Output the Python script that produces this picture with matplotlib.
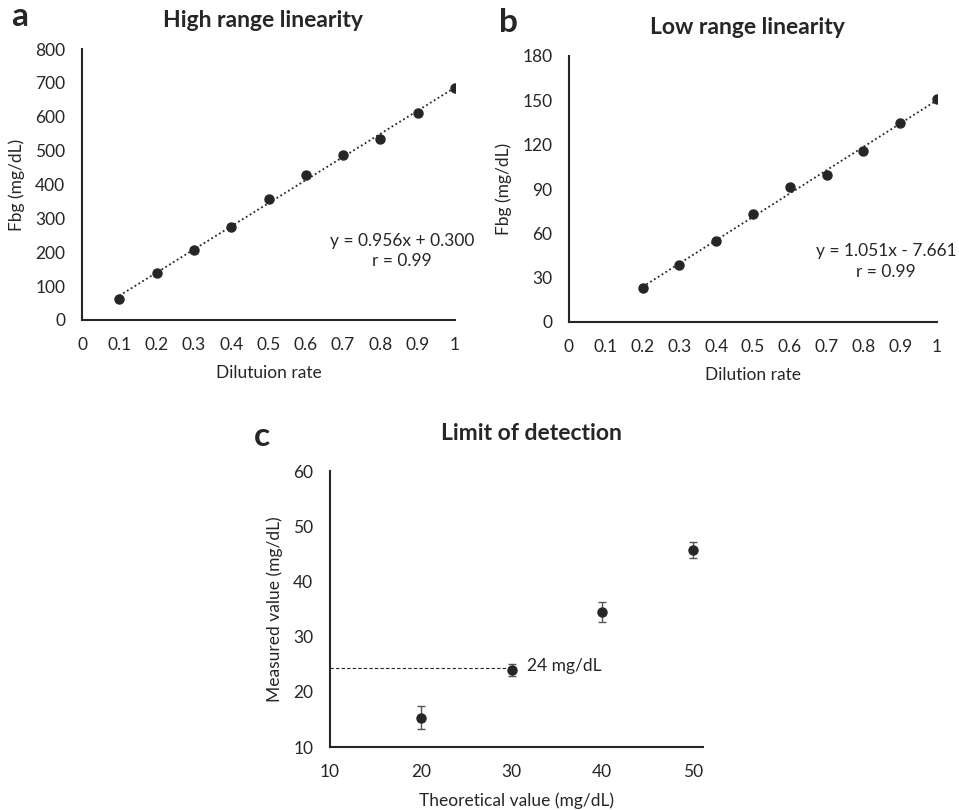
import numpy as np
import matplotlib
matplotlib.use("Agg")
import matplotlib.pyplot as plt

plt.rcParams['font.family'] = ['Lato', 'DejaVu Sans']
plt.rcParams['font.size'] = 12

# panel a: high range linearity
high_x = [0.1, 0.2, 0.3, 0.4, 0.5, 0.6, 0.7, 0.8, 0.9, 1.0]
high_y = [61, 139, 208, 276, 357, 429, 488, 533, 612, 686]

# panel b: low range linearity
low_x = [0.2, 0.3, 0.4, 0.5, 0.6, 0.7, 0.8, 0.9, 1.0]
low_y = [23.0, 38.8, 55.1, 73.4, 91.2, 99.6, 115.6, 134.6, 151.1]

# panel c: limit of detection
lod_x = [20, 30, 40, 50]
lod_y = [15.3, 23.9, 34.5, 45.7]
lod_err = [2.1, 1.1, 1.8, 1.45]
lod_level = 24.4

dark = '#262626'
fs = 12.5
W, H = 959, 810
fig = plt.figure(figsize=(W / 100, H / 100), dpi=100)


def box(left, top, right, bottom):
    return [left / W, 1 - bottom / H, (right - left) / W, (bottom - top) / H]


def style(ax):
    for s in ['top', 'right']:
        ax.spines[s].set_visible(False)
    for s in ['left', 'bottom']:
        ax.spines[s].set_linewidth(1.5)
        ax.spines[s].set_color(dark)
    ax.tick_params(length=0, pad=12, labelsize=fs, colors=dark)


def linear_panel(rect, xs, ys, ylim, yticks, xlabel, title, eq, eqpos):
    ax = fig.add_axes(rect)
    style(ax)
    k, b = np.polyfit(xs, ys, 1)
    fx = np.array([xs[0], xs[-1]])
    ax.plot(fx, k * fx + b, ls=(0, (1, 1.5)), color=dark, lw=1.3)
    ax.plot(xs, ys, 'o', color=dark, ms=6.5)
    ax.set_xlim(0, 1.0)
    ax.set_ylim(*ylim)
    ax.set_xticks(np.round(np.arange(0, 1.01, 0.1), 1))
    ax.set_xticklabels(['0', '0.1', '0.2', '0.3', '0.4', '0.5', '0.6', '0.7', '0.8', '0.9', '1'])
    ax.set_yticks(yticks)
    ax.set_xlabel(xlabel, fontsize=fs, color=dark, labelpad=9)
    ax.set_ylabel('Fbg (mg/dL)', fontsize=fs, color=dark, labelpad=7)
    ax.set_title(title, fontsize=16.5, fontweight='bold', color=dark, pad=16, x=0.484)
    ax.text(eqpos[0], eqpos[1], eq, transform=ax.transAxes, ha='center', va='center',
            fontsize=fs, color=dark, linespacing=1.35)
    return ax


ax_a = linear_panel(box(82, 49, 455, 320), high_x, high_y, (0, 800), range(0, 801, 100),
                    'Dilutuion rate', 'High range linearity',
                    'y = 0.956x + 0.300\nr = 0.99', (0.858, 0.255))
ax_b = linear_panel(box(569, 56, 937, 322), low_x, low_y, (0, 180), range(0, 181, 30),
                    'Dilution rate', 'Low range linearity',
                    'y = 1.051x - 7.661\nr = 0.99', (0.861, 0.228))

# panel c
ax_c = fig.add_axes(box(330, 471, 703, 747))
style(ax_c)
ax_c.plot([10, 30], [lod_level, lod_level], ls=(0, (3, 2)), color=dark, lw=0.8)
ax_c.errorbar(lod_x, lod_y, yerr=lod_err, fmt='o', color=dark, ms=6.5,
              ecolor='#555555', elinewidth=1, capsize=3, capthick=1)
ax_c.text(31.7, lod_level + 0.2, '24 mg/dL', fontsize=fs, color=dark, va='center')
ax_c.set_xlim(10, 51.1)
ax_c.set_ylim(10, 60)
ax_c.set_xticks([10, 20, 30, 40, 50])
ax_c.set_yticks(range(10, 61, 10))
ax_c.set_xlabel('Theoretical value (mg/dL)', fontsize=fs, color=dark, labelpad=9)
ax_c.set_ylabel('Measured value (mg/dL)', fontsize=fs, color=dark, labelpad=7)
ax_c.set_title('Limit of detection', fontsize=16.5, fontweight='bold', color=dark, pad=22, x=0.539)

# panel letters
fig.text(20 / W, 1 - 16 / H, 'a', fontsize=24, fontweight='bold', ha='center', va='center', color=dark)
fig.text(508 / W, 1 - 22 / H, 'b', fontsize=24, fontweight='bold', ha='center', va='center', color=dark)
fig.text(262 / W, 1 - 436 / H, 'c', fontsize=24, fontweight='bold', ha='center', va='center', color=dark)

fig.savefig('out.png', dpi=100, facecolor='white')
